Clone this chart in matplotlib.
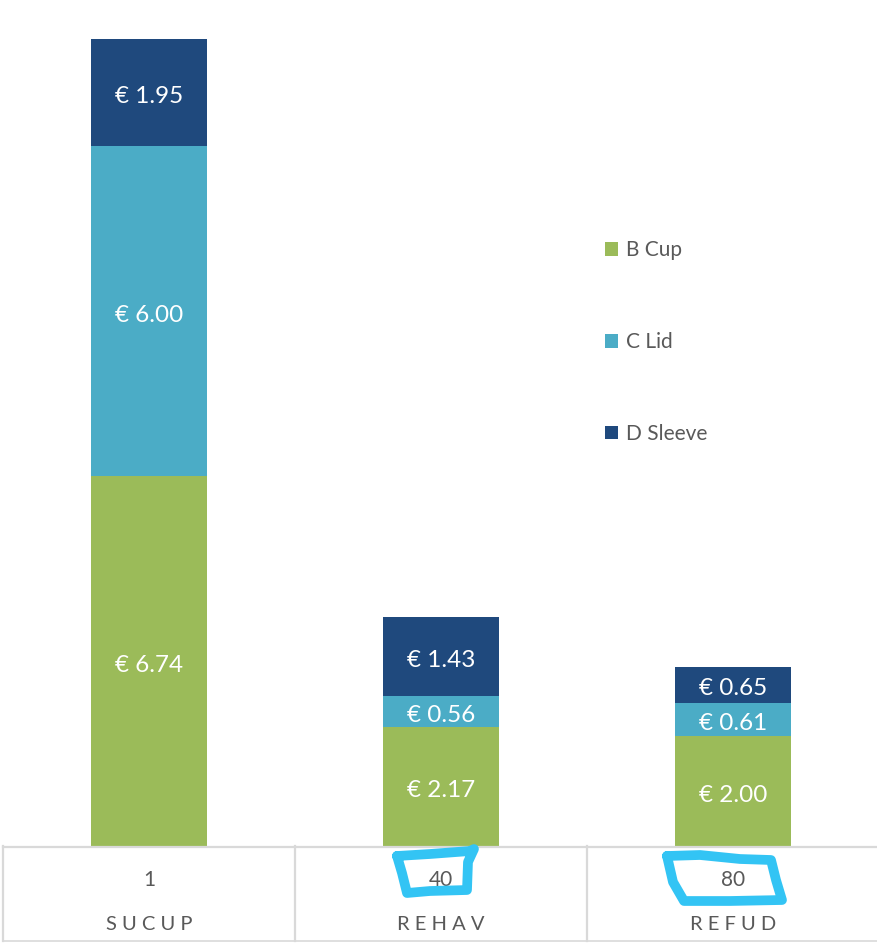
import matplotlib
matplotlib.use("Agg")
import matplotlib.pyplot as plt
import numpy as np

plt.rcParams["font.family"] = ["Lato", "DejaVu Sans"]

# data
codes = ["1", "40", "80"]
names = ["SUCUP", "REHAV", "REFUD"]
series = ["B Cup", "C Lid", "D Sleeve"]
b_cup = [6.74, 2.17, 2.00]
c_lid = [6.00, 0.56, 0.61]
d_sleeve = [1.95, 1.43, 0.65]

colors = ["#9BBB59", "#4BACC6", "#1F497D"]
GRAY = "#595959"
GRID = "#D9D9D9"
HILITE = "#33C4F4"

W, H = 878, 943
fig = plt.figure(figsize=(W / 100, H / 100), dpi=100)
ax = fig.add_axes([3 / W, (H - 846) / H, 876 / W, 846 / H])

x = np.arange(len(names))
bottom = np.zeros(len(names))
for label, vals, col in zip(series, [b_cup, c_lid, d_sleeve], colors):
    bars = ax.bar(x, vals, width=0.4, bottom=bottom, color=col, label=label)
    for bar, v in zip(bars, vals):
        ax.annotate(f"€ {v:.2f}",
                    (bar.get_x() + bar.get_width() / 2,
                     bar.get_y() + bar.get_height() / 2),
                    xytext=(0, -3), textcoords="offset points",
                    ha="center", va="center", color="white", fontsize=17.5)
    bottom += np.array(vals)

ax.set_xlim(-0.5, 2.5)
ax.set_ylim(0, 15.4)
ax.axis("off")

# category table under the bars
trans = ax.get_xaxis_transform()
tbl_bottom = -(941 - 846) / 846
ax.plot([-0.5, 2.5], [-0.001, -0.001], color=GRID, lw=1.6,
        transform=trans, clip_on=False)
ax.plot([-0.5, 2.5], [tbl_bottom, tbl_bottom], color=GRID, lw=1.2,
        transform=trans, clip_on=False)
for xv in [-0.5, 0.5, 1.5, 2.5]:
    ax.plot([xv, xv], [0, tbl_bottom], color=GRID, lw=1.6,
            transform=trans, clip_on=False)

for i, (c, n) in enumerate(zip(codes, names)):
    ax.text(i, -(880 - 846) / 846, c, ha="center", va="center",
            color=GRAY, fontsize=15, transform=trans)
    ax.text(i, -(925 - 846) / 846, " ".join(n), ha="center", va="center",
            color=GRAY, fontsize=14.5, transform=trans)

leg = ax.legend(loc="upper left", bbox_to_anchor=(595 / W, 1 - 230 / H),
                bbox_transform=fig.transFigure, frameon=False,
                fontsize=15, labelcolor=GRAY, handlelength=0.6,
                handleheight=0.6, handletextpad=0.4, labelspacing=3.45,
                borderpad=0)


# hand-drawn highlights around 40 and 80
def px(pts):
    pts = np.array(pts, dtype=float)
    return pts[:, 0] / W, 1 - pts[:, 1] / H


loop40 = [(397, 856), (430, 854), (470, 851), (474, 849), (468, 862),
          (467, 890), (430, 891), (407, 893), (402, 873), (397, 856)]
loop80 = [(667, 856), (700, 855), (740, 859), (771, 860), (776, 880),
          (782, 900), (730, 901), (684, 901), (673, 882), (667, 856)]
for loop in [loop40, loop80]:
    lx, ly = px(loop)
    fig.add_artist(plt.Line2D(lx, ly, color=HILITE, lw=7,
                              solid_joinstyle="round", solid_capstyle="round",
                              transform=fig.transFigure))

fig.savefig("out.png", dpi=100)
